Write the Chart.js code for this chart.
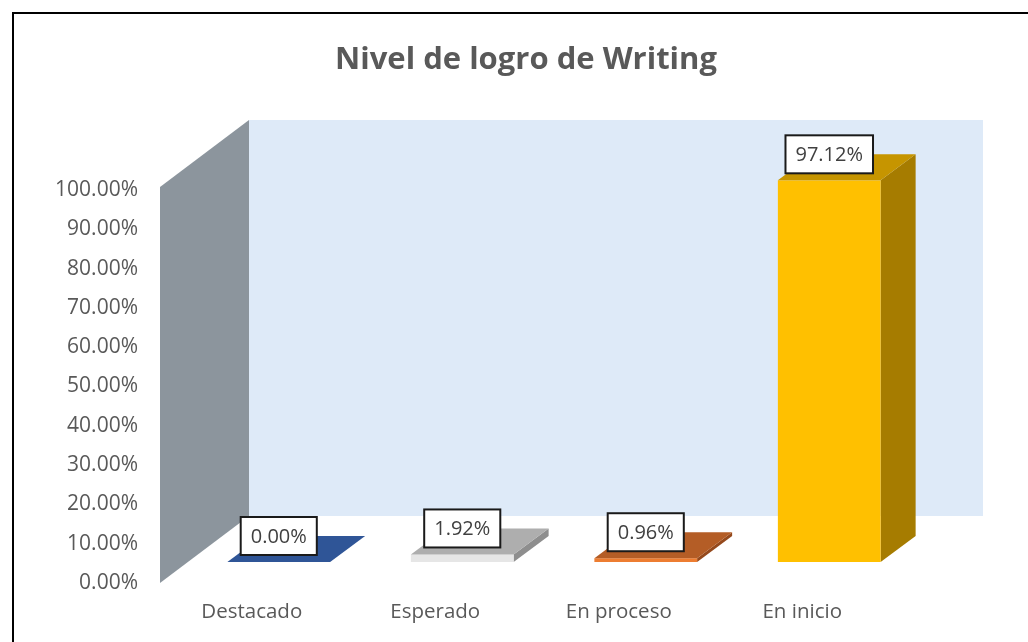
<!DOCTYPE html>
<html>
<head>
<meta charset="utf-8">
<script src="https://cdn.jsdelivr.net/npm/chart.js@4.4.0/dist/chart.umd.min.js"></script>
<style>
html, body { margin: 0; padding: 0; background: #fff; overflow: hidden; }
#wrap { position: relative; width: 1028px; height: 642px; overflow: hidden; }
#myChart { position: absolute; left: 0; top: 0; }
#frame { position: absolute; left: 12px; top: 12px; width: 1100px; height: 700px; border: 2px solid #000; pointer-events: none; }
</style>
</head>
<body>
<div id="wrap">
    <canvas id="myChart" width="1028" height="642"></canvas>
    <div id="frame"></div>
</div>
<script>
const titleText = 'Nivel de logro de Writing'
const categories = ['Destacado', 'Esperado', 'En proceso', 'En inicio']
const values = [0.00, 1.92, 0.96, 97.12]
const yMin = 0
const yMax = 100
const yStep = 10

// face colours per bar: front, top, side
const frontColors = ['#4472C4', '#E6E6E6', '#ED7D31', '#FFC000']
const topColors = ['#2F5597', '#AEAEAE', '#B45D26', '#C69500']
const sideColors = ['#26477F', '#8E8E8E', '#95491C', '#A67C00']

const textColor = '#595959'
const wallDepth = { x: 89, y: -67 }
const barShift = { x: 27, y: -21 }
const barDepth = { x: 35, y: -26 }

function poly(ctx, pts, color) {
    ctx.fillStyle = color
    ctx.beginPath()
    ctx.moveTo(pts[0][0], pts[0][1])
    for (let i = 1; i < pts.length; i++) {
        ctx.lineTo(pts[i][0], pts[i][1])
    }
    ctx.closePath()
    ctx.fill()
}

const wallsPlugin = {
    id: 'walls',
    beforeDatasetsDraw: function(chart) {
        const ctx = chart.ctx
        const a = chart.chartArea
        const top = a.top - 3
        ctx.save()
        poly(ctx, [
            [a.left, a.bottom],
            [a.left, top],
            [a.left + wallDepth.x, top + wallDepth.y],
            [a.left + wallDepth.x, a.bottom + wallDepth.y]
        ], '#8C959D')
        ctx.fillStyle = '#DEEAF8'
        ctx.fillRect(a.left + wallDepth.x, top + wallDepth.y, a.right - a.left, a.bottom - top)
        ctx.restore()
    }
}

const boxesPlugin = {
    id: 'boxes',
    afterDatasetsDraw: function(chart) {
        const ctx = chart.ctx
        const meta = chart.getDatasetMeta(0)
        ctx.save()
        meta.data.forEach(function(bar, i) {
            const half = bar.width / 2
            const L = bar.x - half + barShift.x
            const R = bar.x + half + barShift.x
            const T = bar.y + barShift.y
            const B = bar.base + barShift.y
            const dx = barDepth.x
            const dy = barDepth.y
            poly(ctx, [[R, B], [R, T], [R + dx, T + dy], [R + dx, B + dy]], sideColors[i])
            if (B - T > 0) {
                ctx.fillStyle = frontColors[i]
                ctx.fillRect(L, T, R - L, B - T)
            }
            poly(ctx, [[L, T], [R, T], [R + dx, T + dy], [L + dx, T + dy]], topColors[i])

            // value label
            const label = values[i].toFixed(2) + '%'
            ctx.font = '20px "Open Sans"'
            const w = ctx.measureText(label).width + 20
            const h = 38
            const cx = (L + R) / 2
            const cy = T - 26
            ctx.fillStyle = '#ffffff'
            ctx.fillRect(cx - w / 2, cy - h / 2, w, h)
            ctx.strokeStyle = '#1a1a1a'
            ctx.lineWidth = 2
            ctx.strokeRect(cx - w / 2, cy - h / 2, w, h)
            ctx.fillStyle = '#404040'
            ctx.textAlign = 'center'
            ctx.textBaseline = 'middle'
            ctx.fillText(label, cx, cy + 1)
        })
        ctx.restore()
    }
}

const titlePlugin = {
    id: 'bigTitle',
    afterDraw: function(chart) {
        const ctx = chart.ctx
        ctx.save()
        ctx.font = 'bold 31px "Open Sans"'
        ctx.fillStyle = textColor
        ctx.textAlign = 'center'
        ctx.textBaseline = 'middle'
        ctx.fillText(titleText, 526, 60)
        ctx.restore()
    }
}

function drawChart() {
    const ctx = document.getElementById('myChart').getContext('2d')
    window.myChartInstance = new Chart(ctx, {
        type: 'bar',
        data: {
            labels: categories,
            datasets: [{
                data: values,
                backgroundColor: 'rgba(0,0,0,0)',
                borderWidth: 0,
                categoryPercentage: 1,
                barPercentage: 0.56
            }]
        },
        options: {
            responsive: false,
            animation: false,
            layout: {
                padding: { top: 190, right: 134, bottom: 0, left: 0 }
            },
            scales: {
                y: {
                    min: yMin,
                    max: yMax,
                    grid: { display: false, drawTicks: false },
                    border: { display: false },
                    ticks: {
                        stepSize: yStep,
                        padding: 22,
                        color: textColor,
                        font: { family: 'Open Sans', size: 21 },
                        callback: function(v) {
                            return v.toFixed(2) + '%'
                        }
                    },
                    afterFit: function(s) {
                        s.width = 160
                    }
                },
                x: {
                    grid: { display: false, drawTicks: false },
                    border: { display: false },
                    ticks: {
                        padding: 17,
                        maxRotation: 0,
                        autoSkip: false,
                        color: textColor,
                        font: { family: 'Open Sans', size: 20.5 }
                    },
                    afterFit: function(s) {
                        s.height = 59
                    }
                }
            },
            plugins: {
                legend: { display: false },
                tooltip: { enabled: false }
            }
        },
        plugins: [wallsPlugin, boxesPlugin, titlePlugin]
    })
}

Promise.all([
    document.fonts.load('20px "Open Sans"'),
    document.fonts.load('bold 31px "Open Sans"')
]).then(drawChart, drawChart)
</script>
</body>
</html>
